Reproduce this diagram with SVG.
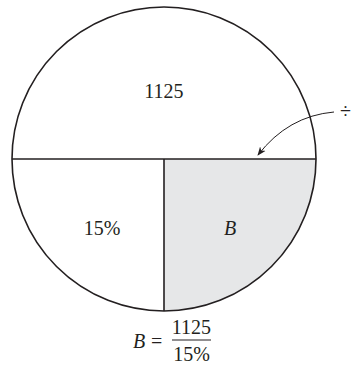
<svg xmlns="http://www.w3.org/2000/svg" width="351" height="366" viewBox="0 0 351 366">
<style>
.t{font-family:"Liberation Serif","Times New Roman",serif;font-size:20px;fill:#231f20}
.i{font-style:italic}
.ln{stroke:#231f20;stroke-width:1.6;fill:none}
</style>
<defs>
<marker id="ah" viewBox="0 0 10 10" refX="9" refY="5" markerWidth="9" markerHeight="9" markerUnits="userSpaceOnUse" orient="auto">
<path d="M0,1 L10,5 L0,9 L3,5 Z" fill="#231f20"/>
</marker>
</defs>
<g id="shade">
<path d="M164,159 L316,159 A152,152 0 0 1 164,311 Z" fill="#e6e7e8"/>
</g>
<g id="circle">
<circle cx="164" cy="159" r="152" class="ln"/>
<line x1="12" y1="159" x2="316" y2="159" class="ln"/>
<line x1="164" y1="159" x2="164" y2="311" class="ln"/>
</g>
<g id="top"><text class="t" x="164" y="98" text-anchor="middle">1125</text></g>
<g id="left"><text class="t" x="102" y="235" text-anchor="middle">15%</text></g>
<g id="right"><text class="t i" x="230" y="235" text-anchor="middle">B</text></g>
<g id="connectors">
<path d="M334,112 Q288,116 258,155" stroke="#231f20" stroke-width="1" fill="none" marker-end="url(#ah)"/>
</g>
<g id="div"><text class="t" x="340" y="118">÷</text></g>
<g id="formula">
<text class="t i" x="133" y="348">B</text>
<text class="t" x="151" y="348">=</text>
<text class="t" x="191.5" y="334" text-anchor="middle">1125</text>
<line x1="172" y1="340" x2="211" y2="340" stroke="#231f20" stroke-width="1"/>
<text class="t" x="191.5" y="361" text-anchor="middle">15%</text>
</g>
</svg>
